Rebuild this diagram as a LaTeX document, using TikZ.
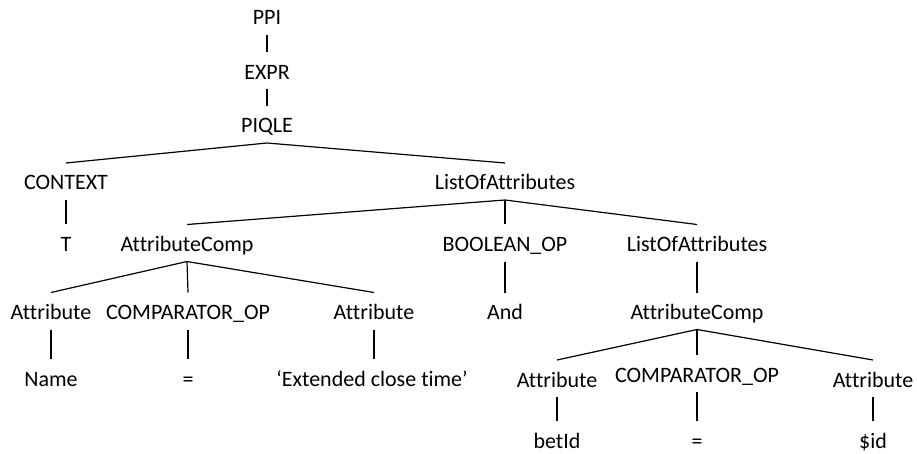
\documentclass[tikz,border=0pt]{standalone}
\usepackage{fontspec}
\setmainfont{Carlito}[Ligatures=NoCommon]
\begin{document}
\begin{tikzpicture}[x=1pt,y=-1pt,
  % each label reaches 13pt above its capitals and 10pt below its baseline,
  % so connectors run from .south of a parent to .north of a child
  lbl/.style={inner sep=0pt, outer sep=0pt, anchor=base,
    text height=27pt, text depth=10pt,
    font=\fontsize{22}{26}\selectfont},
  edge/.style={line width=1.2pt, line join=miter}]
\useasboundingbox (0,0) rectangle (917,454);

% labels
\node[lbl] (ppi)    at (267,25)    {PPI};
\node[lbl] (expr)   at (267,79.5)  {EXPR};
\node[lbl] (piqle)  at (267,133)   {PIQLE};
\node[lbl] (context) at (66,190)   {CONTEXT};
\node[lbl] (loa)    at (505,190)   {ListOfAttributes};
\node[lbl] (t)      at (66,251.5)  {T};
\node[lbl] (acomp)  at (187,251.5) {AttributeComp};
\node[lbl] (boolop) at (505,251.5) {BOOLEAN\_OP};
\node[lbl] (loab)   at (697,251.5) {ListOfAttributes};
\node[lbl] (attra)  at (51,319.5)  {Attribute};
\node[lbl] (cmpa)   at (188,319.5) {COMPARATOR\_OP};
\node[lbl] (attrb)  at (374,319.5) {Attribute};
\node[lbl] (and)    at (505,319.5) {And};
\node[lbl] (acompb) at (697,319.5) {AttributeComp};
\node[lbl] (name)   at (51,386)    {Name};
\node[lbl] (eqa)    at (188,386)   {=};
\node[lbl] (ext)    at (372,386)   {‘Extended close time’};
\node[lbl] (attrc)  at (557,387)   {Attribute};
\node[lbl] (cmpb)   at (697,382)   {COMPARATOR\_OP};
\node[lbl] (attrd)  at (873,387)   {Attribute};
\node[lbl] (betid)  at (557,448)   {betId};
\node[lbl] (eqb)    at (697,448)   {=};
\node[lbl] (sid)    at (873,448)   {\$id};

% connectors
\draw[edge] (ppi.south) -- (expr.north);
\draw[edge] (expr.south) -- (piqle.north);
\draw[edge] (context.north) -- (piqle.south) -- (loa.north);
\draw[edge] (context.south) -- (t.north);
\draw[edge] (acomp.north) -- (loa.south) -- (loab.north);
\draw[edge] (loa.south) -- (boolop.north);
\draw[edge] (attra.north) -- (acomp.south) -- (attrb.north);
\draw[edge] (acomp.south) -- (cmpa.north);
\draw[edge] (boolop.south) -- (and.north);
\draw[edge] (loab.south) -- (acompb.north);
\draw[edge] (attra.south) -- (name.north);
\draw[edge] (cmpa.south) -- (eqa.north);
\draw[edge] (attrb.south) -- (ext.north -| attrb.south);
\draw[edge] (attrc.north) -- (acompb.south) -- (attrd.north);
\draw[edge] (acompb.south) -- (cmpb.north);
\draw[edge] (attrc.south) -- (betid.north);
\draw[edge] (cmpb.south) -- (eqb.north);
\draw[edge] (attrd.south) -- (sid.north);
\end{tikzpicture}
\end{document}
